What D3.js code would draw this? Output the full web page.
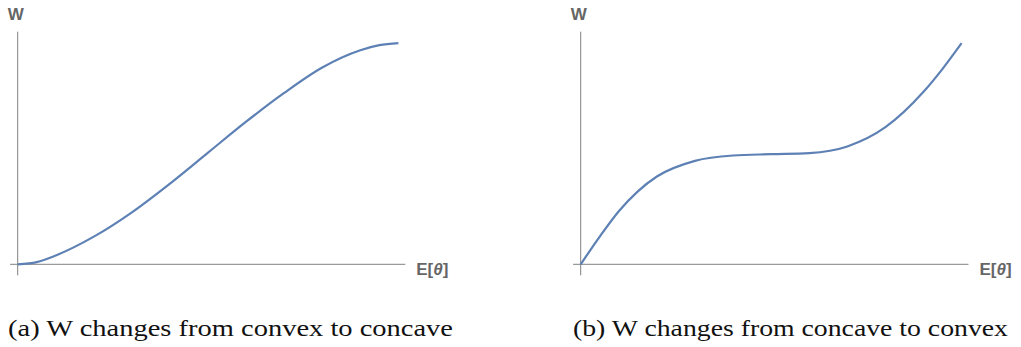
<!DOCTYPE html>
<html>
<head>
<meta charset="utf-8">
<script src="https://cdn.jsdelivr.net/npm/d3@7"></script>
<style>
  body { margin: 0; background: #fff; }
  svg { display: block; }
</style>
</head>
<body>
<svg id="chart" width="1021" height="347"></svg>
<script>
// values, in plot units (E[theta] and W both 0..1)
var convexConcaveX = [0, 0.05, 0.1, 0.2, 0.3, 0.4, 0.5, 0.6, 0.7, 0.8, 0.9, 0.95, 1]
var convexConcaveW = [0, 0.01, 0.04, 0.125, 0.235, 0.365, 0.505, 0.645, 0.775, 0.89, 0.968, 0.991, 1]

var concaveConvexX = [0, 0.05, 0.1, 0.15, 0.2, 0.3, 0.4, 0.5, 0.6, 0.7, 0.8, 0.9, 0.95, 1]
var concaveConvexW = [0, 0.125, 0.24, 0.33, 0.397, 0.468, 0.492, 0.498, 0.503, 0.533, 0.62, 0.78, 0.884, 1]

var captions = ["(a) W changes from convex to concave", "(b) W changes from concave to convex"]
var xLabel = "E[", xLabelSym = "θ", xLabelEnd = "]"
var yLabel = "W"

var svg = d3.select("#chart")

// each panel: where its plot range lands on the page
var panels = [
    {xs: convexConcaveX, ws: convexConcaveW, left: 17.7, right: 398.4, caption: captions[0], capX: 8, capW: 445},
    {xs: concaveConvexX, ws: concaveConvexW, left: 580.7, right: 961.6, caption: captions[1], capX: 573, capW: 435}
]

var plotTop = 43.2, plotBottom = 264.3

panels.forEach(function(p) {
    var x = d3.scaleLinear().domain([0, 1]).range([p.left, p.right])
    var y = d3.scaleLinear().domain([0, 1]).range([plotBottom, plotTop])
    var g = svg.append("g")

    // axes, drawn a little past the data range like Mathematica does
    g.append("line")
        .attr("x1", x(-0.02)).attr("x2", x(1.018))
        .attr("y1", y(0)).attr("y2", y(0))
        .attr("stroke", "#808080").attr("stroke-width", 1)
    g.append("line")
        .attr("x1", x(0)).attr("x2", x(0))
        .attr("y1", y(-0.05)).attr("y2", y(1.052))
        .attr("stroke", "#808080").attr("stroke-width", 1)

    // the curve
    var pts = p.xs.map(function(d, i) { return [d, p.ws[i]] })
    var line = d3.line()
        .x(function(d) { return x(d[0]) })
        .y(function(d) { return y(d[1]) })
        .curve(d3.curveMonotoneX)
    g.append("path")
        .attr("d", line(pts))
        .attr("fill", "none")
        .attr("stroke", "#5e81b5")
        .attr("stroke-width", 2.2)

    // axis labels
    g.append("text")
        .attr("x", x(0) - 10).attr("y", 20)
        .attr("font-family", "Liberation Sans, Arial, sans-serif")
        .attr("font-weight", "bold")
        .attr("font-size", 17)
        .attr("fill", "#666")
        .text(yLabel)
    var xl = g.append("text")
        .attr("x", x(1.018) + 11).attr("y", y(0) + 11)
        .attr("font-family", "Liberation Sans, Arial, sans-serif")
        .attr("font-weight", "bold")
        .attr("font-size", 17)
        .attr("fill", "#666")
    xl.append("tspan").text(xLabel)
    xl.append("tspan").attr("font-style", "italic").text(xLabelSym)
    xl.append("tspan").text(xLabelEnd)

    // caption under the panel
    svg.append("text")
        .attr("x", p.capX).attr("y", 336)
        .attr("font-family", "Liberation Serif, 'Times New Roman', serif")
        .attr("font-size", 24)
        .attr("fill", "#111")
        .attr("textLength", p.capW)
        .attr("lengthAdjust", "spacingAndGlyphs")
        .text(p.caption)
})
</script>
</body>
</html>
